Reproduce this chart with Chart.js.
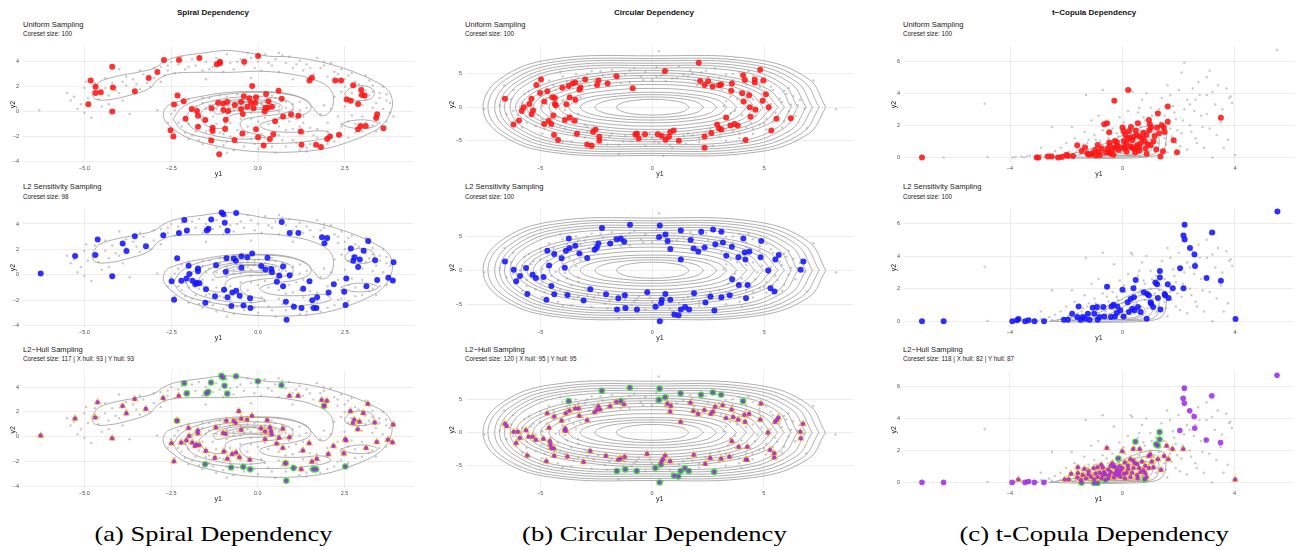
<!DOCTYPE html>
<html>
<head>
<meta charset="utf-8">
<script src="https://cdn.jsdelivr.net/npm/chart.js@4.4.0/dist/chart.umd.min.js"></script>
<style>
  body { margin: 0; width: 1299px; height: 550px; background: #fff; position: relative; overflow: hidden;
         font-family: "Liberation Sans", Arial, sans-serif; }
  .t { position: absolute; white-space: nowrap; color: #111; }
  .title { font-weight: bold; font-size: 8px; line-height: 10px; transform: translateX(-50%); }
  .sub { font-size: 7.6px; line-height: 9px; color: #222; }
  .cs { font-size: 6.3px; line-height: 8px; color: #222; }
  .cap { font-family: "Liberation Serif", serif; font-size: 21px; line-height: 24px; color: #000; transform-origin: center center; }
  canvas { position: absolute; }
</style>
</head>
<body>
<script>
// ---------- spiral dependency ----------
var spiralXTicks = [-5, -2.5, 0, 2.5];
var spiralXLabels = ["\u22125.0", "\u22122.5", "0.0", "2.5"];
var spiralYTicks = [-4, -2, 0, 2, 4];
var spiralYLabels = ["\u22124", "\u22122", "0", "2", "4"];

var spiralGrey = [[-6.3,0.1],[-5.5,1.5],[-5.4,0.9],[-5.2,0.2],[-5.0,1.9],[-4.9,1.1],[-4.8,-0.5],[-4.7,2.3],[-4.5,0.4],[-4.4,2.7],
  [-4.3,1.3],[-4.1,1.7],[-4.0,3.4],[-3.9,0.9],[-3.8,2.1],[-3.7,-0.2],[-3.6,2.6],[-3.4,1.8],[-3.3,3.0],[-3.2,2.3],[-3.0,2.7],
  [-2.9,0.1],[-2.8,3.6],[-2.7,2.9],[-2.6,3.3],[-2.5,4.0],[-2.3,3.8],[-2.1,3.4],[-1.9,4.2],[-1.8,3.7],[-1.6,3.3],[-1.5,4.0],
  [-1.3,3.6],[-1.2,4.3],[-1.0,3.2],[-0.9,4.6],[-0.8,3.9],[-0.7,3.4],[-0.5,4.2],[-0.4,3.7],[-0.3,4.7],[-0.1,3.5],[0.0,4.0],
  [0.1,3.3],[0.2,4.6],[0.4,3.7],[0.5,4.2],[0.6,3.2],[0.8,3.9],[0.9,4.4],[1.0,3.5],[1.2,4.1],[1.3,3.3],[1.4,3.8],[1.6,3.0],
  [1.7,4.3],[1.8,3.5],[2.0,2.8],[2.1,3.9],[2.2,3.2],[2.3,2.5],[2.4,3.4],[2.5,2.0],[2.6,2.9],[2.7,1.5],[2.8,2.4],[2.9,0.8],
  [3.0,2.0],[3.1,1.0],[3.2,2.5],[3.3,0.3],[3.3,1.6],[3.4,-0.5],[3.5,1.1],[3.6,0.2],[3.6,2.0],[3.7,-0.8],[3.8,0.7],[3.9,-0.4],
  [3.2,-1.3],[3.0,-0.4],[2.6,-0.8],[2.8,-1.7],[3.4,-1.6],[2.4,-1.9],[2.2,-2.4],[2.0,-1.6],[1.8,-2.9],[1.7,-2.1],[1.5,-2.6],
  [1.3,-1.8],[1.2,-3.1],[1.0,-2.3],[0.8,-2.8],[0.6,-1.9],[0.5,-3.3],[0.3,-2.5],[0.1,-1.8],[0.0,-3.0],[-0.2,-2.2],[-0.4,-2.8],
  [-0.5,-1.9],[-0.7,-3.1],[-0.9,-2.4],[-1.1,-1.7],[-1.2,-2.9],[-1.4,-2.1],[-1.6,-2.6],[-1.8,-1.6],[-2.0,-2.2],[-2.2,-1.2],
  [-2.4,-1.7],[-2.6,-0.9],[-2.5,-0.2],[-2.3,0.5],[-2.1,-0.6],[-2.0,1.0],[-1.9,0.1],[-1.7,-1.1],[-1.6,0.7],[-1.5,0.2],
  [-1.4,1.1],[-1.3,-0.4],[-1.2,0.6],[-1.1,1.3],[-1.0,0.3],[-0.9,-0.2],[-0.8,0.9],[-0.7,0.4],[-0.6,1.4],[-0.5,0.1],[-0.4,0.7],
  [-0.3,1.0],[-0.2,0.4],[-0.1,0.8],[0.0,1.2],[0.1,0.5],[0.2,0.9],[0.3,0.2],[0.4,1.3],[0.5,0.6],[0.6,0.0],[0.7,0.9],[0.8,0.3],
  [0.9,-0.3],[1.0,0.6],[1.1,-0.6],[1.2,0.1],[1.3,-0.9],[1.5,-1.3],[1.0,-1.4],[0.6,-1.2],[0.3,-1.0],[0.0,-0.8],[-0.3,-1.2],
  [-0.6,-1.5],[-0.8,-0.9],[-1.0,-1.8],[2.0,-0.9],[2.3,-0.4],[1.8,-0.2],[1.9,0.5],[2.2,1.2],[2.1,0.2],[-0.2,2.7],[1.0,2.6],
  [-1.5,2.6],[-0.6,0.5],[-0.3,0.6],[0.1,0.7],[-0.9,0.6],[-1.2,0.2],[0.4,0.4],[-0.2,-0.1],[-1.6,-0.4],[-2.0,-1.0],[2.9,1.3],
  [3.1,1.7],[2.8,-1.0],[3.1,-0.9],[-4.6,1.6],[-3.9,2.4],[-2.2,4.4],[0.6,4.7],[1.9,4.0],[3.7,1.4],[1.4,-3.2],[-0.9,-3.3],
  [-5.3,1.2],[-5.1,0.6],[-4.95,2.4],[-4.6,1.0],[-4.4,1.9],[-4.2,2.3],[-4.0,1.5],[-3.8,2.8],[-3.5,2.2],[-3.4,3.3],[-3.1,2.0],
  [-3.0,3.5],[-2.8,2.4],[-2.6,3.7],[-2.4,3.1],[-2.2,4.1],[-2.0,3.6],[-1.7,4.4],[-1.4,3.4],[-1.1,3.8],[-0.6,4.0],[-0.2,4.3],
  [0.3,3.9],[0.7,4.5],[1.1,3.8],[1.5,3.5],[1.9,3.7],[2.3,3.0],[2.5,2.6],[2.7,3.1],[2.9,2.2],[3.1,2.9],[3.3,2.1],[3.5,1.5],
  [3.7,0.9],[3.8,-0.1],[3.5,-0.9],[3.3,-1.1],[3.0,-1.6],[2.6,-2.1],[2.3,-2.0],[2.0,-2.6],[1.6,-1.9],[1.4,-2.9],[1.1,-2.5],
  [0.7,-2.3],[0.4,-2.8],[0.2,-2.1],[-0.1,-2.6],[-0.3,-1.7],[-0.6,-2.5],[-0.8,-2.0],[-1.0,-2.7],[-1.3,-2.4],[-1.5,-1.6],
  [-1.7,-2.3],[-1.9,-1.9],[-2.1,-1.7],[-2.3,-0.9],[-2.4,0.1],[-2.2,0.8],[-1.8,0.4],[-1.6,1.1],[-1.4,0.5],[-1.1,0.9],
  [-0.9,1.2],[-0.7,0.1],[-0.5,0.9],[-0.4,0.3],[-0.1,1.1],[0.1,0.2],[0.3,0.6],[0.5,1.1],[0.6,0.4],[0.8,0.8],[1.0,0.1],
  [1.2,0.8],[1.4,0.3],[1.3,-0.4],[0.9,-0.8],[0.6,-0.5],[0.2,-0.5],[-0.2,-0.6],[-0.5,-0.6],[-0.9,-1.2],[-1.2,-1.0],
  [-1.4,-1.5],[0.8,-1.5],[1.2,-1.2],[1.7,-1.4],[2.4,-1.2],[2.7,-0.3],[2.5,0.4],[2.6,1.1],[3.2,1.3],[3.4,0.7],[3.0,0.5],
  [2.4,1.6],[-4.3,0.6],[-5.0,-0.1]];

var spiralContours = [
  [[-4.79,1.55],[-4.6,2.32],[-4.13,2.79],[-3.47,3.15],[-2.99,3.48],[-2.71,4.0],[-2.33,4.39],[-1.57,4.7],[-0.91,4.9],
   [-0.25,4.7],[0.32,4.44],[0.89,4.39],[1.65,4.08],[2.31,3.61],[2.88,3.05],[3.35,2.45],[3.73,1.75],[3.87,0.77],[3.78,-0.26],
   [3.54,-1.16],[3.16,-1.81],[2.59,-2.45],[1.93,-2.97],[1.08,-3.23],[0.13,-3.23],[-0.63,-3.05],[-1.38,-2.63],[-2.0,-2.12],
   [-2.42,-1.42],[-2.71,-0.57],[-2.66,0.31],[-2.33,0.77],[-1.76,1.16],[-0.81,1.55],[0.13,1.6],[0.89,1.42],[1.36,0.9],
   [1.6,0.26],[1.79,-0.31],[2.03,-0.13],[2.17,0.77],[2.07,1.81],[1.65,2.53],[0.98,2.99],[0.13,3.23],[-0.81,3.15],
   [-1.76,3.15],[-2.52,3.02],[-2.9,2.53],[-3.13,1.86],[-3.66,1.34],[-4.32,0.95],[-4.7,1.03],[-4.79,1.55]],
  [[-2.45,-0.6],[-2.2,0.3],[-1.7,0.95],[-0.9,1.4],[0.1,1.55],[0.9,1.35],[1.45,0.8],[1.5,0.1],[1.1,-0.4],[0.4,-0.7],
   [0.05,-1.1],[0.4,-1.55],[1.2,-1.65],[1.9,-1.55],[2.1,-1.95],[1.5,-2.35],[0.5,-2.55],[-0.6,-2.45],[-1.6,-2.05],[-2.2,-1.45],[-2.45,-0.6]],
  [[-2.1,-0.5],[-1.9,0.2],[-1.4,0.8],[-0.6,1.15],[0.3,1.15],[0.9,0.8],[1.0,0.2],[0.6,-0.2],[0.0,-0.4],[-0.5,-0.8],[-0.4,-1.5],
   [0.2,-2.0],[-0.5,-2.2],[-1.3,-1.9],[-1.9,-1.3],[-2.1,-0.5]],
  [[-1.7,-0.3],[-1.5,0.3],[-0.9,0.85],[-0.2,0.95],[0.5,0.75],[0.7,0.3],[0.3,0.0],[-0.4,-0.1],[-0.9,-0.5],[-1.0,-1.3],[-1.5,-1.1],[-1.7,-0.3]],
  [[-1.3,0.2],[-0.9,0.7],[-0.2,0.8],[0.4,0.6],[0.3,0.2],[-0.3,0.2],[-0.8,0.0],[-1.2,-0.2],[-1.3,0.2]],
  [[-0.9,0.45],[-0.5,0.7],[0.1,0.65],[0.15,0.35],[-0.4,0.3],[-0.8,0.3],[-0.9,0.45]],
  [[2.5,1.5],[2.7,1.95],[3.1,2.05],[3.35,1.6],[3.25,1.05],[2.9,0.9],[2.55,1.1],[2.5,1.5]],
  [[2.38,-1.0],[2.7,-0.72],[3.2,-0.7],[3.45,-1.0],[3.2,-1.3],[2.7,-1.3],[2.38,-1.0]]
];

var spiralUniform = [[-4.89,0.59],[-4.82,2.5],[-4.68,1.99],[-4.68,1.5],[-4.53,1.55],[-4.2,3.6],[-4.18,1.94],[-4.2,0],
  [-3.55,1.63],[-3.15,2.7],[-2.9,3.17],[-2.71,4.13],[-2.28,4.13],[-1.69,4.3],[-2.52,-1.5],[-2.44,-2.0],[-2.42,0.57],
  [-2.32,1.29],[-2.14,0.83],[-2.09,-0.57],[-1.91,0.2],[-1.76,0.05],[-1.73,-0.34],[-1.73,-1.21],[-1.52,-0.67],[-1.35,-2.32],
  [-1.31,-1.29],[-1.31,-1.55],[-1.34,0.26],[-1.19,3.79],[-1.1,4.0],[-1.1,3.87],[-1.12,-3.41],[-1.15,0.72],[-1.0,0.65],
  [-1.0,0.13],[-0.93,-0.65],[-0.95,-1.39],[-0.89,0.77],[-0.86,0.05],[-0.68,-2.27],[-0.67,0.52],[-0.49,0.77],[-0.49,0.2],
  [-0.44,-0.2],[-0.45,-1.75],[-0.4,4.0],[-0.41,1.24],[-0.31,0.39],[-0.25,1.08],[-0.17,2.06],[-0.2,0.7],[-0.13,0.26],
  [-0.08,0.72],[-0.06,1.16],[-0.06,-1.42],[0,4.46],[0,-2.06],[0.16,-2.71],[0.19,0],[0.21,0.31],[0.23,1.42],[0.3,0.83],
  [0.28,0.31],[0.34,-2.19],[0.4,0.39],[0.44,-1.81],[0.49,-0.77],[0.59,1.68],[0.68,1.03],[0.72,-0.39],[0.95,-0.21],
  [1.16,-0.34],[1.23,-1.6],[1.25,-2.66],[1.48,2.5],[1.55,2.71],[1.67,-2.66],[1.81,-2.84],[1.99,-2.19],[2.07,-2.0],
  [2.22,2.5],[2.39,2.5],[2.33,-1.86],[2.55,0.98],[2.67,0.88],[2.74,2.12],[2.88,0.62],[2.88,-1.42],[2.95,-1.16],[2.97,1.73],
  [2.99,1.34],[3.07,1.29],[3.1,-1.16],[3.4,-0.52],[3.43,-0.21],[3.61,-1.34]];

var spiralL2 = [[-6.26,0.09],[-5.27,1.47],[-4.69,1.55],[-4.62,2.77],[-4.2,-0.12],[-3.9,2.47],[-3.79,1.88],[-3.55,3.03],
  [-3.23,2.24],[-2.73,3.11],[-2.49,-0.52],[-2.42,-1.98],[-2.33,1.29],[-2.28,3.29],[-2.21,-0.47],[-2.12,4.31],[-2.06,-0.29],
  [-2.05,3.49],[-2.0,0.7],[-1.98,0.06],[-1.89,-0.47],[-1.81,-0.75],[-1.77,-0.63],[-1.73,0.5],[-1.73,0.27],[-1.69,-0.68],
  [-1.52,-2.21],[-1.5,-1.14],[-1.48,3.49],[-1.43,3.62],[-1.35,4.36],[-1.24,-1.7],[-1.21,0.75],[-1.05,4.9],[-1.0,4.77],
  [-0.96,4.1],[-0.98,-1.19],[-0.93,0.24],[-0.91,1.29],[-0.88,3.47],[-0.88,-1.77],[-0.77,-2.47],[-0.74,-1.4],[-0.7,1.27],
  [-0.64,1.11],[-0.63,4.87],[-0.63,-1.27],[-0.53,-1.65],[-0.48,0.55],[-0.48,1.45],[-0.42,-2.42],[-0.31,1.37],[-0.23,-1.85],
  [-0.22,-2.62],[-0.17,1.68],[0.09,0.68],[0.21,0.42],[0.27,1.34],[0.38,0.45],[0.4,0.19],[0.54,-0.55],[0.61,-0.09],
  [0.68,4.15],[0.72,0.65],[0.72,-0.91],[0.8,-2.13],[0.82,-3.54],[0.91,-0.04],[0.91,3.29],[1.03,-2.52],[1.16,3.29],
  [1.25,-2.62],[1.3,-1.11],[1.48,-0.52],[1.56,-2.01],[1.6,-2.62],[1.68,-2.62],[1.7,-1.78],[1.84,2.95],[1.91,2.49],
  [1.99,2.89],[2.03,-1.4],[2.18,-0.75],[2.48,-1.34],[2.52,-2.39],[2.54,-0.29],[2.67,2.06],[2.74,1.11],[2.78,1.37],
  [2.88,0.6],[2.93,1.21],[3.04,1.9],[3.12,-0.91],[3.17,2.65],[3.37,1.14],[3.43,-0.42],[3.75,-0.24],[3.88,-0.45],[3.9,0.98]];

// hull: green = X hull, triangles = Y hull
var spiralHullX = [[-2.12,4.31],[-2.05,3.49],[-1.48,3.49],[-1.43,3.62],[-1.35,4.36],[-1.05,4.9],[-1.0,4.77],[-0.96,4.1],
  [-0.88,3.47],[-0.63,4.87],[0.68,4.15],[0,4.46],[-1.52,-2.21],[-0.77,-2.47],[-0.42,-2.42],[-0.22,-2.62],[0.82,-3.54],
  [1.03,-2.52],[1.6,-2.62],[1.68,-2.62],[2.52,-2.39],[0.8,-2.13],[-2.33,1.29],[1.91,2.49]];
var spiralHullYExtra = [[-0.55,2.06],[-2.33,1.29],[1.91,2.49],[0.8,-2.13],[0.21,-0.2],[2.52,-0.2],[-1.0,0.3],[0.35,0.75]];

// ---------- circular dependency ----------
var circXTicks = [-5, 0, 5];
var circXLabels = ["\u22125", "0", "5"];
var circYTicks = [-5, 0, 5];
var circYLabels = ["\u22125", "0", "5"];

var circGrey = [[-5.0,3.2],[-4.6,4.0],[-4.3,2.6],[-4.0,4.6],[-3.7,3.1],[-3.4,5.0],[-3.2,3.8],[-3.0,4.4],[-2.7,5.4],[-2.5,3.3],
  [-2.2,4.8],[-2.0,3.9],[-1.8,5.6],[-1.5,4.3],[-1.2,5.0],[-1.0,3.7],[-0.8,5.8],[-0.5,4.6],[-0.3,5.3],[0.0,4.1],[0.2,6.0],
  [0.4,4.8],[0.7,5.5],[0.9,4.3],[1.2,6.1],[1.4,4.9],[1.7,5.6],[1.9,4.0],[2.2,5.2],[2.5,4.5],[2.8,5.8],[3.0,3.7],[3.3,4.9],
  [3.6,4.1],[3.9,5.3],[4.2,3.4],[4.5,4.6],[4.8,3.0],[5.1,3.9],[5.4,2.6],[-5.2,-2.8],[-4.9,-3.9],[-4.5,-2.5],[-4.2,-4.6],
  [-3.9,-3.2],[-3.6,-5.1],[-3.3,-3.8],[-3.0,-4.5],[-2.7,-5.4],[-2.4,-3.4],[-2.1,-4.9],[-1.8,-3.9],[-1.5,-5.6],[-1.2,-4.3],
  [-0.9,-5.1],[-0.6,-3.8],[-0.3,-5.8],[0.0,-4.6],[0.3,-5.3],[0.6,-4.1],[0.9,-6.0],[1.2,-4.8],[1.5,-5.5],[1.8,-4.2],
  [2.1,-5.2],[2.4,-3.7],[2.7,-5.8],[3.0,-4.4],[3.3,-5.0],[3.6,-3.5],[3.9,-4.6],[4.2,-3.0],[4.5,-4.0],[4.8,-2.6],[5.1,-3.3],
  [5.4,-2.2],[-6.8,0.3],[-6.5,-1.0],[-6.3,1.2],[-6.1,-2.0],[-5.9,0.0],[-5.7,2.0],[-5.6,-1.4],[-5.4,0.9],[-5.2,-0.3],
  [-5.0,1.6],[-4.9,-1.8],[-4.7,0.5],[-4.5,-0.8],[-4.4,2.0],[-4.2,-1.5],[-4.0,1.1],[-3.9,-0.4],[-3.7,1.8],[-3.6,-2.2],
  [-3.4,0.6],[-3.3,-1.0],[-3.1,2.3],[-3.0,-2.6],[6.8,-0.2],[6.6,1.1],[6.4,-1.3],[6.2,0.4],[6.0,2.0],[5.9,-2.1],[5.7,1.3],
  [5.5,-0.8],[5.3,0.5],[5.1,-1.7],[4.9,2.1],[4.7,-0.3],[4.5,1.2],[4.4,-2.3],[4.2,0.8],[4.0,-1.2],[3.9,2.4],[3.7,-0.5],
  [3.5,1.6],[3.4,-1.9],[3.2,0.2],[3.1,2.7],[3.0,-2.9],[0.3,8.4],[7.2,4.0],[8.2,-0.3],[-7.5,-0.3],[-1.5,-7.0],[0.5,-7.3],
  [-6.6,3.3],[6.9,-3.1],[-2.6,4.1],[-1.4,3.6],[0.6,3.9],[2.0,3.3],[-2.9,-3.6],[-0.8,-4.6],[1.6,-3.9],[-5.8,-3.0],[5.8,-3.0],
  [-6.2,2.6],[6.1,2.9],[-4.1,5.3],[4.3,5.4],[-4.0,-5.2],[4.0,-5.3],
  [-5.5,2.4],[-5.3,1.3],[-5.8,0.7],[-6.2,-0.5],[-6.0,-1.2],[-5.6,-2.3],[-5.1,-1.2],[-4.8,-3.2],[-4.4,3.3],[-4.1,-2.8],
  [-3.8,3.9],[-3.5,-4.2],[-3.3,4.4],[-2.9,5.0],[-2.6,-4.0],[-2.3,5.4],[-2.0,-5.6],[-1.7,4.9],[-1.3,-5.1],[-1.0,5.5],
  [-0.7,-4.3],[-0.4,4.1],[0.1,-5.1],[0.5,5.1],[0.8,-5.6],[1.1,4.4],[1.4,-4.3],[1.8,5.1],[2.1,-4.6],[2.4,5.5],[2.7,-4.1],
  [3.0,4.4],[3.3,-3.2],[3.6,5.0],[3.9,-3.9],[4.2,4.1],[4.5,-3.2],[4.8,3.6],[5.0,-2.4],[5.3,3.1],[5.6,-1.4],[5.8,0.8],
  [6.1,-0.6],[6.3,1.7],[6.5,0.3],[5.9,2.5],[5.2,-0.5],[4.9,0.7],[4.6,-1.3],[4.3,2.4],[-4.7,1.4],[-4.3,-0.2],[-4.9,0.2],
  [-3.8,-1.2],[-3.5,1.3],[-3.3,-1.7],[-3.2,1.5],[3.5,-0.9],[3.3,0.9],[3.8,1.2],[-1.9,-4.4],[1.6,4.6],[-0.1,-4.0],[0.2,4.6],
  [-2.9,-2.9],[2.8,3.4],[-2.8,3.3],[2.6,-3.2]];

// contour rings, outer to inner (outer ones boxier, inner ones elliptic)
var circRings = [
  [[7.75,0],[6.98,4.24],[4.65,7.16],[0,7.7],[-4.53,7.16],[-6.8,4.24],[-7.55,0],[-6.8,-3.96],[-4.53,-6.7],[0,-7.2],[4.65,-6.7],[6.98,-3.96]],
  [[7.46,0],[6.71,4.02],[4.48,6.79],[0,7.3],[-4.4,6.79],[-6.6,4.02],[-7.33,0],[-6.6,-3.8],[-4.4,-6.42],[0,-6.9],[4.48,-6.42],[6.71,-3.8]],
  [[7.16,0],[6.44,3.83],[4.3,6.48],[0,6.97],[-4.22,6.48],[-6.33,3.83],[-7.03,0],[-6.33,-3.6],[-4.22,-6.09],[0,-6.55],[4.3,-6.09],[6.44,-3.6]],
  [[6.87,0],[6.18,3.62],[4.12,6.13],[0,6.59],[-4.09,6.13],[-6.13,3.62],[-6.81,0],[-6.13,-3.41],[-4.09,-5.77],[0,-6.2],[4.12,-5.77],[6.18,-3.41]],
  [[6.5,0],[5.85,3.44],[3.9,5.81],[0,6.25],[-3.95,5.81],[-5.93,3.44],[-6.59,0],[-5.93,-3.22],[-3.95,-5.44],[0,-5.85],[3.9,-5.44],[5.85,-3.22]],
  [[6.21,0],[5.59,3.23],[3.73,5.46],[0,5.87],[-3.8,5.46],[-5.71,3.23],[-6.34,0],[-5.71,-3.03],[-3.8,-5.12],[0,-5.5],[3.73,-5.12],[5.59,-3.03]],
  [[5.91,0],[5.14,2.77],[2.96,4.81],[0,5.53],[-3.05,4.81],[-5.31,2.77],[-6.1,0],[-5.31,-2.58],[-3.05,-4.48],[0,-5.15],[2.96,-4.48],[5.14,-2.58]],
  [[5.62,0],[4.89,2.57],[2.81,4.47],[0,5.14],[-2.93,4.47],[-5.09,2.57],[-5.85,0],[-5.09,-2.4],[-2.93,-4.18],[0,-4.8],[2.81,-4.18],[4.89,-2.4]],
  [[5.32,0],[4.63,2.38],[2.66,4.14],[0,4.76],[-2.8,4.14],[-4.86,2.38],[-5.59,0],[-4.86,-2.23],[-2.8,-3.87],[0,-4.45],[2.66,-3.87],[4.63,-2.23]],
  [[4.96,0],[4.32,2.19],[2.48,3.8],[0,4.37],[-2.66,3.8],[-4.62,2.19],[-5.31,0],[-4.62,-2.05],[-2.66,-3.57],[0,-4.1],[2.48,-3.57],[4.32,-2.05]],
  [[4.59,0],[3.99,1.95],[2.3,3.38],[0,3.89],[-2.49,3.38],[-4.32,1.95],[-4.97,0],[-4.32,-1.85],[-2.49,-3.22],[0,-3.7],[2.3,-3.22],[3.99,-1.85]],
  [[4.22,0],[3.67,1.71],[2.11,2.97],[0,3.41],[-2.3,2.97],[-4.0,1.71],[-4.6,0],[-4.0,-1.65],[-2.3,-2.87],[0,-3.3],[2.11,-2.87],[3.67,-1.65]],
  [[3.78,0],[3.29,1.42],[1.89,2.46],[0,2.83],[-2.08,2.46],[-3.62,1.42],[-4.16,0],[-3.62,-1.4],[-2.08,-2.44],[0,-2.8],[1.89,-2.44],[3.29,-1.4]],
  [[3.34,0],[2.91,1.13],[1.67,1.96],[0,2.25],[-1.86,1.96],[-3.24,1.13],[-3.72,0],[-3.24,-1.15],[-1.86,-2.0],[0,-2.3],[1.67,-2.0],[2.91,-1.15]],
  [[2.9,0],[2.52,0.95],[1.45,1.65],[0,1.9],[-1.61,1.65],[-2.79,0.95],[-3.21,0],[-2.79,-0.95],[-1.61,-1.65],[0,-1.9],[1.45,-1.65],[2.52,-0.95]],
  [[2.3,0],[2.0,0.78],[1.15,1.35],[0,1.55],[-1.28,1.35],[-2.22,0.78],[-2.55,0],[-2.22,-0.75],[-1.28,-1.31],[0,-1.5],[1.15,-1.31],[2.0,-0.75]],
  [[1.65,0],[1.44,0.6],[0.83,1.04],[0,1.2],[-0.8,1.04],[-1.38,0.6],[-1.59,0],[-1.38,-0.58],[-0.8,-1.0],[0,-1.15],[0.83,-1.0],[1.44,-0.58]]
];

var circUniform = [[-6.57,1.28],[-6.19,-2.58],[-5.94,-1.96],[-5.82,-0.56],[-5.73,0.02],[-5.48,0.51],[-5.39,1.28],
  [-5.38,-1.04],[-5.32,-0.46],[-5.17,3.36],[-5.0,2.15],[-4.96,4.18],[-4.82,0.89],[-4.82,-2.49],[-4.68,2.39],[-4.62,-2.0],
  [-4.5,-2.49],[-4.46,1.52],[-4.41,-1.23],[-4.38,-4.13],[-4.34,1.38],[-4.34,0.51],[-4.3,0.31],[-4.2,-4.9],[-4.01,2.92],
  [-3.9,-1.91],[-3.83,0.46],[-3.73,3.21],[-3.68,1.47],[-3.68,-1.52],[-3.55,3.55],[-3.46,-2.0],[-3.43,3.7],[-3.43,1.13],
  [-3.36,-3.94],[-3.25,2.63],[-3.2,2.97],[-2.99,4.18],[-2.9,-5.58],[-2.7,-5.73],[-2.64,-3.65],[-2.53,-3.31],[-2.46,3.36],
  [-2.4,4.03],[-2.36,-4.42],[-2.36,-5.0],[-1.99,3.55],[-1.59,4.66],[-0.87,2.87],[-0.75,-4.03],[-0.68,-3.94],[-0.6,-4.66],
  [-0.32,-4.03],[0.25,-4.03],[0.43,-4.28],[0.57,5.43],[0.6,-4.86],[0.75,-4.42],[0.81,-3.7],[0.96,-3.45],[1.19,-5.0],
  [2.08,6.69],[2.14,3.94],[2.34,3.36],[2.34,-4.37],[2.34,-6.06],[2.5,3.89],[2.64,-3.84],[2.7,3.12],[2.9,-2.58],[2.99,3.31],
  [2.99,-3.16],[3.08,3.41],[3.09,-3.31],[3.3,-1.52],[3.49,-2.73],[3.56,3.55],[3.53,2.49],[3.67,-2.49],[3.82,-2.73],
  [4.02,2.1],[4.06,4.81],[4.08,0.89],[4.14,4.08],[4.17,-4.9],[4.33,1.81],[4.36,0.02],[4.39,-1.42],[4.58,4.18],[4.58,3.7],
  [4.61,-0.36],[4.82,5.63],[4.93,0.99],[4.96,4.03],[5.08,1.96],[5.2,0.02],[5.32,-3.45],[5.55,-1.71],[6.19,-1.62]];

var circHullX = [[-2.24,6.25],[-0.99,6.73],[0.34,6.59],[0.31,4.9],[0.59,5.29],[1.28,5.87],[2.19,5.67],[2.72,6.01],
  [3.09,5.67],[4.07,4.71],[-3.72,4.71],[-1.4,4.71],[-1.57,-5.77],[-1.19,-5.53],[-0.68,-5.77],[0.15,-5.34],[0.34,-7.5],
  [0.4,-4.81],[0.99,-6.49],[1.18,-6.59],[1.28,-5.77],[1.47,-5.38],[1.65,-5.77],[2.78,-5.91]];
var circHullY = [[-6.57,1.3],[-6.49,0.96],[-6.18,0.1],[-5.99,0.1],[-6.07,-1.59],[-5.9,-0.82],[-5.63,0.34],[-5.57,-3.46],
  [-5.51,-0.63],[-5.34,-0.63],[-5.19,-1.11],[-4.85,-0.96],[-4.68,2.88],[-4.72,-4.33],[-4.6,0.72],[-4.56,-1.3],[-4.54,-1.83],
  [-4.5,-2.31],[-4.38,-2.4],[-4.37,-3.51],[-4.37,2.4],[-4.04,1.78],[-3.9,0.38],[-3.87,0.58],[-3.85,2.88],[-3.78,-3.61],
  [-3.69,3.27],[-3.43,3.61],[-3.28,3.61],[-3.25,2.5],[-3.06,-4.42],[-2.9,1.83],[-2.76,-2.79],[-2.57,3.03],[-2.47,3.37],
  [-2.4,3.94],[-2.32,3.46],[-2.06,-3.51],[-1.87,3.94],[-1.59,4.57],[-1.25,4.23],[-1.51,-4.09],[-1.4,-3.94],[-1.22,-3.65],
  [-0.22,-3.22],[0.43,-4.33],[0.49,-3.99],[0.59,-3.46],[0.69,4.33],[0.81,-4.33],[0.84,3.99],[0.81,3.13],[1.28,1.59],
  [1.72,4.47],[1.85,3.22],[1.87,-3.37],[2.06,2.79],[2.34,3.37],[2.38,-4.71],[2.6,-3.85],[2.63,2.79],[2.72,3.13],[2.82,3.85],
  [3.09,-3.94],[3.16,4.09],[3.31,2.16],[3.46,-3.65],[3.56,3.46],[3.57,-1.3],[3.63,2.31],[3.85,1.92],[3.87,-2.16],[4.13,2.64],
  [4.16,1.59],[4.19,-4.09],[4.25,-4.09],[4.26,-2.16],[4.34,2.79],[4.84,1.92],[4.87,4.33],[5.18,0],[5.28,-2.64],[5.46,-3.12],
  [5.46,-3.75],[5.5,1.59],[5.65,2.26],[6.63,0.1],[6.65,-0.87],[6.75,1.3],[5.59,1.92],[-3.85,0.24]];
// points the hull sampler added on top of the L2 coreset
var circHullExtra = [[-6.49,0.96],[-5.99,0.1],[-5.51,-0.63],[-4.56,-1.3],[-4.54,-1.83],[-3.87,0.58],[-3.28,3.61],
  [-2.32,3.46],[-1.4,-3.94],[0.49,-3.99],[0.84,3.99],[2.72,3.13],[3.63,2.31],[4.25,-4.09],[5.46,-3.75],[6.65,-0.87],
  [5.59,1.92],[-3.85,0.24],[2.63,2.79],[-4.38,-2.4]];

// ---------- t-copula dependency ----------
var tcopXTicks = [-4, 0, 4];
var tcopXLabels = ["\u22124", "0", "4"];
var tcopYTicks = [0, 2, 4, 6];
var tcopYLabels = ["0", "2", "4", "6"];

var tcopGrey = [[-3.8,0.02],[-3.6,0.05],[-3.5,0.0],[-3.3,0.1],[-3.1,0.05],[-2.9,0.15],[-2.8,0.02],[-2.6,0.25],[-2.5,0.1],
  [-2.4,0.4],[-2.3,0.05],[-2.2,0.6],[-2.1,0.2],[-2.0,0.9],[-1.9,0.35],[-1.8,0.1],[-1.7,1.2],[-1.6,0.5],[-1.5,0.2],[-1.4,0.8],
  [-1.35,1.6],[-1.3,0.35],[-1.2,1.1],[-1.1,0.5],[-1.0,0.2],[-1.0,1.4],[-0.9,0.7],[-0.85,2.6],[-0.8,1.0],[-0.7,0.35],
  [-0.7,1.7],[-0.6,0.6],[-0.5,1.2],[-0.5,2.2],[-0.4,0.4],[-0.3,0.9],[-0.3,3.5],[-0.2,1.5],[-0.1,0.5],[-0.1,2.5],[0.0,1.1],
  [0.1,0.3],[0.1,1.8],[0.2,2.9],[0.25,0.8],[0.3,1.4],[0.35,4.1],[0.4,0.5],[0.45,2.2],[0.5,1.1],[0.6,3.1],[0.6,1.7],
  [0.7,0.4],[0.75,2.5],[0.8,1.3],[0.85,4.0],[0.9,0.8],[1.0,2.0],[1.0,3.1],[1.1,1.4],[1.2,0.6],[1.2,2.8],[1.3,1.9],[1.4,3.7],
  [1.5,1.2],[1.5,2.6],[1.6,0.3],[1.6,4.5],[1.7,1.8],[1.8,3.2],[1.9,0.9],[1.9,2.4],[2.0,4.2],[2.1,1.5],[2.1,5.3],[2.2,5.9],
  [2.2,3.0],[2.3,0.5],[2.4,2.0],[2.5,4.3],[2.6,3.6],[2.6,1.2],[2.7,4.7],[2.8,2.6],[2.9,0.6],[3.0,5.0],[3.0,3.9],[3.1,1.8],
  [3.1,5.4],[3.2,0.0],[3.3,3.3],[3.4,4.5],[3.5,2.2],[3.6,0.6],[3.7,4.3],[3.8,3.7],[3.9,3.4],[4.0,0.15],[5.5,6.7],
  [-4.9,3.35],[-4.8,0.02],[-6.36,0.0],[-2.5,1.9],[-1.3,3.9],[-0.7,4.2],[0.3,4.2],[2.4,3.3],[1.3,3.0],[-0.2,0.2],[0.2,0.6],
  [0.6,0.9],[-0.6,0.15],[0.9,1.6],[-0.3,0.7],[0.4,1.0],[1.1,0.9],[-1.2,0.15],[0.0,0.4],
  [-3.9,0.0],[-3.4,0.05],[-3.0,0.02],[-2.7,0.1],[-2.2,0.15],[-1.95,0.25],[-1.65,0.3],[-1.45,0.6],[-1.25,0.9],[-0.95,1.1],
  [-0.75,0.8],[-0.55,1.5],[-0.35,1.8],[-0.15,1.3],[0.05,2.2],[0.25,1.1],[0.45,1.5],[0.55,2.8],[0.65,1.9],[0.8,2.3],
  [0.95,1.1],[1.05,2.6],[1.15,1.7],[1.25,0.9],[1.35,2.2],[1.45,1.6],[1.55,0.8],[1.65,2.1],[1.75,1.3],[1.85,2.8],[1.95,1.7],
  [2.05,0.7],[2.15,2.3],[2.3,3.6],[2.45,1.6],[2.55,2.9],[2.65,0.9],[2.75,3.9],[2.85,1.9],[3.0,2.7],[3.2,4.1],[3.35,1.4],
  [3.55,3.0],[3.75,1.1],[3.85,3.8],[-1.8,1.9],[-2.9,0.6],[-1.1,2.3],[0.7,3.6],[1.7,3.9]];

var tcopContours = [
  [[-2.6,0.0],[-1.5,0.35],[-0.5,0.95],[0.4,1.7],[1.1,2.0],[1.5,1.8],[1.55,1.0],[1.4,0.3],[1.0,0.05],[0,-0.05],[-1.5,-0.05],[-2.6,0.0]],
  [[-1.8,0.05],[-0.9,0.5],[0,1.15],[0.7,1.6],[1.2,1.5],[1.3,0.8],[1.1,0.2],[0.3,0.05],[-1.0,0.0],[-1.8,0.05]],
  [[-1.2,0.1],[-0.4,0.5],[0.3,1.1],[0.9,1.3],[1.1,0.8],[0.8,0.2],[0,0.1],[-1.2,0.1]],
  [[-0.6,0.15],[0.1,0.6],[0.7,0.9],[0.8,0.5],[0.4,0.15],[-0.6,0.15]],
  [[-0.1,0.25],[0.4,0.6],[0.6,0.4],[0.3,0.2],[-0.1,0.25]]
];

var tcopUniform = [[-7.13,0],[-3.05,0],[-2.99,0],[-2.66,0.06],[-2.52,0.06],[-2.29,0],[-2.15,0.02],[-1.99,0.16],[-1.94,0.08],
  [-1.76,0.08],[-1.61,0.76],[-1.33,0.62],[-1.21,0.18],[-1.11,0.18],[-1.06,0.26],[-0.97,0.46],[-0.94,0.12],[-0.88,0.78],
  [-0.74,0.56],[-0.65,2.07],[-0.55,2.13],[-0.53,0.52],[-0.49,0.32],[-0.47,1.57],[-0.47,0.93],[-0.45,0.72],[-0.41,0.22],
  [-0.32,0.16],[-0.29,3.54],[-0.27,1.03],[-0.27,0.62],[-0.18,0.72],[-0.14,0.46],[0,1.87],[0.04,1.63],[0.08,0.68],[0.09,0.56],
  [0.18,1.19],[0.2,4.21],[0.23,1.63],[0.26,1.23],[0.29,0.68],[0.33,0.62],[0.35,1.07],[0.39,1.27],[0.41,0.52],[0.47,1.67],
  [0.5,1.39],[0.53,0.78],[0.55,2.13],[0.59,0.42],[0.65,0.89],[0.74,1.53],[0.79,1.03],[0.82,0.56],[0.86,0.22],[0.9,0.82],
  [0.94,2.33],[0.97,2.07],[1.0,0.76],[1.02,1.87],[1.14,1.33],[1.23,1.87],[1.26,2.74],[1.35,0.06],[1.44,0.38],[1.47,1.87],
  [1.5,1.59],[1.61,3.18],[1.61,2.23],[1.82,1.07],[1.94,0.32],[3.5,2.47],[-1.25,0.25],[-0.6,0.3],[-0.2,0.95],[0.15,0.9],
  [0.45,0.3],[0.7,1.2],[-0.85,0.35],[0.1,1.4],[0.6,0.6],[-0.8,0.15],[-0.35,0.5],[0.05,1.0],[0.3,1.9],[0.6,1.3],[0.85,1.4],
  [1.1,1.0],[1.3,1.5],[1.4,2.0],[0.15,0.35],[-0.05,0.6],[0.5,0.65],[0.95,1.7],[1.2,0.5],[-1.45,0.4]];

var tcopL2 = [[-7.13,0],[-6.36,0],[-3.92,0],[-3.75,0.06],[-3.7,0.14],[-3.46,0],[-3.34,0.06],[-3.13,0],[-2.79,0],[-2.08,0.1],
  [-1.94,0.1],[-1.79,0.46],[-1.61,0.26],[-1.56,0.91],[-1.49,0.1],[-1.41,0.26],[-1.33,0.16],[-1.23,0.46],[-1.17,0.1],
  [-1.06,0.83],[-1.0,0.46],[-0.91,0.87],[-0.88,0.1],[-0.82,0.26],[-0.68,0.87],[-0.65,0.3],[-0.55,2.12],[-0.41,0.26],
  [-0.39,0.91],[-0.32,1.01],[-0.27,0.3],[-0.2,0.51],[-0.18,0.91],[-0.08,0.67],[0,1.94],[0.04,0.3],[0.18,1.17],[0.23,0.57],
  [0.29,1.37],[0.35,0.77],[0.39,2.02],[0.41,1.47],[0.43,0.67],[0.47,2.53],[0.55,0.87],[0.65,0.57],[0.76,1.78],[0.86,0.16],
  [0.88,1.68],[0.94,1.58],[1.0,1.17],[1.02,1.07],[1.09,0.87],[1.17,2.38],[1.23,2.28],[1.26,1.43],[1.33,3.09],[1.33,2.69],
  [1.35,0.73],[1.5,1.68],[1.52,1.58],[1.61,2.28],[1.64,1.43],[1.79,2.02],[2.05,3.25],[2.17,5.27],[2.21,5.92],[2.21,5.01],
  [2.17,2.02],[2.4,4.5],[2.56,4.1],[2.58,3.39],[2.99,2.65],[3.19,5.45],[3.5,2.48],[4.02,0.14],[5.51,6.73]];

var tcopHullOnly = [[-7.13,0],[-6.36,0],[-3.92,0],[-3.46,0],[-3.34,0.06],[-3.13,0],[-2.79,0],[5.51,6.71],[2.21,5.9],
  [2.17,5.26],[2.21,4.96],[2.4,4.48],[2.56,4.12],[2.58,3.39],[2.05,3.25],[3.19,5.42],[2.99,2.65],[3.5,2.49]];
var tcopHullX = [[1.33,3.15],[1.33,2.69],[0.47,2.55],[1.21,2.39],[1.26,2.31],[-1.45,-0.02],[-1.0,-0.04],[-0.88,-0.04],
  [-0.14,1.5],[-0.3,1.0],[0.8,0.2],[-0.6,0.15]];
var tcopHullY = [[-3.7,0.18],[-0.55,2.15],[0,1.95],[0.39,2.09],[0.62,2.09],[1.58,2.29],[1.79,2.09],[2.17,2.09],[1.49,1.65],
  [1.64,1.45],[1.38,0.78],[0.86,0.34],[4.02,0.18],[-1.58,0.94],[-1.58,0.58],[-2.05,0.18],[-1.91,0.18],[-1.82,0.54],
  [-1.35,0.84],[-1.02,0.88],[-0.88,0.94],[-0.69,0.94],[-0.41,1.04],[-0.27,0.98],[-0.18,0.84],[-0.06,0.74],[0.09,1.24],
  [0.29,1.45],[0.39,1.35],[0.53,1.14],[0.21,0.84],[0.65,0.64],[0.82,0.58],[1.0,1.75],[0.94,1.65],[1.11,0.94],[1.27,1.45],
  [0.06,0.54],[-0.18,0.44],[-0.47,0.44],[-0.65,0.64],[-0.88,0.34],[-1.11,0.34],[-1.29,0.24],[-1.47,0.14],[-1.0,0.18],
  [-0.74,0.24],[-0.41,0.64],[-0.27,0.54],[-0.06,0.34],[0.29,0.34],[0.53,0.44],[0.82,1.04],[-0.5,0.8],[-0.3,0.3],[0.15,0.6],
  [0.4,0.9],[-0.8,0.6],[-1.2,0.5],[0.7,1.3],[-0.1,1.0],[-0.6,0.5],[-1.6,0.3],[-1.4,0.45],[-1.2,0.7],[-0.95,0.55],
  [-0.7,0.45],[-0.5,0.25],[-0.2,0.7],[0.0,0.9],[0.2,1.05],[0.45,1.2],[0.6,0.9],[0.75,0.75],[0.95,0.9],[1.05,1.3],
  [0.35,0.6],[-0.1,0.55],[-0.35,1.2],[-0.75,1.1],[0.1,0.25],[0.55,0.25]];

// ---------- layout ----------
var AXIS_W = 24, AXIS_H = 22;
var colLeft = [23, 466, 904];
var colRight = [418, 858, 1298];
var rowTop = [42, 204, 367];
var rowBottom = [163, 327, 488];
var yTitlePad = [9.8, 5.8, 9.8];

function pts(list) {
  return list.map(function (p) { return { x: p[0], y: p[1] }; });
}
function sameList(list, p) {
  for (var i = 0; i < list.length; i++) {
    if (list[i][0] == p[0] && list[i][1] == p[1]) return true;
  }
  return false;
}

function greyDs(list) {
  return { data: pts(list), pointRadius: 1.25, pointBackgroundColor: "rgba(185,185,185,0.75)", pointBorderWidth: 0, order: 5 };
}
function contourDs(list) {
  return list.map(function (c) {
    return { data: pts(c), showLine: true, pointRadius: 0, borderColor: "#9b9b9b", borderWidth: 0.8, tension: 0.4, fill: false, order: 4 };
  });
}
function sampleDs(list, color) {
  return { data: pts(list), pointRadius: 3.0, pointBackgroundColor: color, pointBorderWidth: 0, order: 1 };
}
function hullDs(xHull, yHull, onlyPurple) {
  var all = xHull.concat(yHull);
  var ds = [
    { data: pts(xHull), pointRadius: 3.3, pointBackgroundColor: "rgba(40,225,40,0.85)", pointBorderWidth: 0, order: 3 },
    { data: pts(yHull), pointRadius: 4.4, pointStyle: "triangle", pointBackgroundColor: "rgba(255,165,0,0.85)", pointBorderWidth: 0, order: 2 },
    { data: pts(all), pointRadius: 2.1, pointBackgroundColor: "rgba(160,40,235,0.85)", pointBorderWidth: 0, order: 1 }
  ];
  if (onlyPurple) ds.push({ data: pts(onlyPurple), pointRadius: 2.8, pointBackgroundColor: "rgba(160,40,235,0.85)", pointBorderWidth: 0, order: 0 });
  return ds;
}

function makePanel(col, row, xr, yr, xTicks, xLabels, yTicks, yLabels, datasets) {
  var cv = document.createElement("canvas");
  var w = colRight[col] - colLeft[col] + AXIS_W;
  var h = rowBottom[row] - rowTop[row] + AXIS_H;
  cv.width = w;
  cv.height = h;
  cv.style.left = (colLeft[col] - AXIS_W) + "px";
  cv.style.top = rowTop[row] + "px";
  document.body.appendChild(cv);
  new Chart(cv.getContext("2d"), {
    type: "scatter",
    data: { datasets: datasets },
    options: {
      responsive: false, animation: false, devicePixelRatio: 1,
      layout: { padding: 0 },
      plugins: { legend: { display: false }, tooltip: { enabled: false } },
      scales: {
        x: {
          type: "linear", min: xr[0], max: xr[1],
          afterBuildTicks: function (a) { a.ticks = xTicks.map(function (v) { return { value: v }; }); },
          afterFit: function (a) { a.height = AXIS_H; a.paddingLeft = 0; a.paddingRight = 0; },
          grid: { color: "#ebebeb", lineWidth: 0.9, drawTicks: false },
          border: { display: false },
          ticks: { padding: 2, font: { size: 5.5, family: "Liberation Sans" }, color: "#4d4d4d", maxRotation: 0, autoSkip: false,
                   callback: function (v, i) { return xLabels[i]; } },
          title: { display: true, text: "y1", font: { size: 7, family: "Liberation Sans" }, color: "#222", padding: { top: 0, bottom: 6.6 } }
        },
        y: {
          type: "linear", min: yr[0], max: yr[1],
          afterBuildTicks: function (a) { a.ticks = yTicks.map(function (v) { return { value: v }; }); },
          afterFit: function (a) { a.width = AXIS_W; a.paddingTop = 0; a.paddingBottom = 0; },
          grid: { color: "#ebebeb", lineWidth: 0.9, drawTicks: false },
          border: { display: false },
          ticks: { padding: 4, font: { size: 5.5, family: "Liberation Sans" }, color: "#4d4d4d", autoSkip: false,
                   callback: function (v, i) { return yLabels[i]; } },
          title: { display: true, text: "y2", font: { size: 7, family: "Liberation Sans" }, color: "#222", padding: { top: yTitlePad[col], bottom: 0 } }
        }
      }
    }
  });
}

function addText(txt, cls, x, yc, lh) {
  var d = document.createElement("div");
  d.className = "t " + cls;
  d.textContent = txt;
  d.style.left = x + "px";
  d.style.top = (yc - lh / 2) + "px";
  document.body.appendChild(d);
  return d;
}

// titles and subtitles
var colTitles = ["Spiral Dependency", "Circular Dependency", "t\u2212Copula Dependency"];
var titleCenters = [213, 654, 1094];
var rowNames = ["Uniform Sampling", "L2 Sensitivity Sampling", "L2\u2212Hull Sampling"];
var rowNameY = [24.3, 186.7, 349.3];
var rowSizeY = [33.8, 197.3, 359.2];
var sizeTexts = [
  ["Coreset size: 100", "Coreset size: 98", "Coreset size: 117 | X hull: 93 | Y hull: 93"],
  ["Coreset size: 100", "Coreset size: 100", "Coreset size: 120 | X hull: 95 | Y hull: 95"],
  ["Coreset size: 100", "Coreset size: 100", "Coreset size: 118 | X hull: 82 | Y hull: 87"]
];
var textLeft = [23, 465, 903];
var captions = ["(a) Spiral Dependency", "(b) Circular Dependency", "(c) t-Copula Dependency"];
var captionWidths = [238, 265, 269];

for (var c = 0; c < 3; c++) {
  addText(colTitles[c], "title", titleCenters[c], 13.3, 10);
  for (var r = 0; r < 3; r++) {
    addText(rowNames[r], "sub", textLeft[c], rowNameY[r], 9);
    addText(sizeTexts[c][r], "cs", textLeft[c], rowSizeY[r], 8);
  }
  var cap = addText(captions[c], "cap", titleCenters[c], 533.5, 24);
  var k = captionWidths[c] / cap.offsetWidth;
  cap.style.left = (titleCenters[c] - cap.offsetWidth / 2) + "px";
  cap.style.transform = "scaleX(" + k.toFixed(3) + ")";
}

// spiral column
var spiralX = [-6.77, 4.49], spiralY = [-4.12, 5.26];
var spiralHullY = spiralL2.filter(function (p) { return !sameList(spiralHullX, p); }).concat(spiralHullYExtra);
makePanel(0, 0, spiralX, spiralY, spiralXTicks, spiralXLabels, spiralYTicks, spiralYLabels,
  [sampleDs(spiralUniform, "rgba(255,20,20,0.88)")].concat(contourDs(spiralContours), [greyDs(spiralGrey)]));
makePanel(0, 1, spiralX, spiralY, spiralXTicks, spiralXLabels, spiralYTicks, spiralYLabels,
  [sampleDs(spiralL2, "rgba(20,20,255,0.88)")].concat(contourDs(spiralContours), [greyDs(spiralGrey)]));
makePanel(0, 2, spiralX, spiralY, spiralXTicks, spiralXLabels, spiralYTicks, spiralYLabels,
  hullDs(spiralHullX, spiralHullY).concat(contourDs(spiralContours), [greyDs(spiralGrey)]));

// circular column
var circX = [-8.31, 9.01], circY = [-8.33, 9.18];
var circContours = circRings.map(function (ring) { return ring.concat([ring[0]]); });
var circL2 = circHullX.concat(circHullY).filter(function (p) { return !sameList(circHullExtra, p); });
makePanel(1, 0, circX, circY, circXTicks, circXLabels, circYTicks, circYLabels,
  [sampleDs(circUniform, "rgba(255,20,20,0.88)")].concat(contourDs(circContours), [greyDs(circGrey)]));
makePanel(1, 1, circX, circY, circXTicks, circXLabels, circYTicks, circYLabels,
  [sampleDs(circL2, "rgba(20,20,255,0.88)")].concat(contourDs(circContours), [greyDs(circGrey)]));
makePanel(1, 2, circX, circY, circXTicks, circXLabels, circYTicks, circYLabels,
  hullDs(circHullX, circHullY).concat(contourDs(circContours), [greyDs(circGrey)]));

// t-copula column
var tcopX = [-7.77, 6.1], tcopY = [-0.35, 6.95];
makePanel(2, 0, tcopX, tcopY, tcopXTicks, tcopXLabels, tcopYTicks, tcopYLabels,
  [sampleDs(tcopUniform, "rgba(255,20,20,0.88)")].concat(contourDs(tcopContours), [greyDs(tcopGrey)]));
makePanel(2, 1, tcopX, tcopY, tcopXTicks, tcopXLabels, tcopYTicks, tcopYLabels,
  [sampleDs(tcopL2, "rgba(20,20,255,0.88)")].concat(contourDs(tcopContours), [greyDs(tcopGrey)]));
makePanel(2, 2, tcopX, tcopY, tcopXTicks, tcopXLabels, tcopYTicks, tcopYLabels,
  hullDs(tcopHullX, tcopHullY, tcopHullOnly).concat(contourDs(tcopContours), [greyDs(tcopGrey)]));
</script>
</body>
</html>
